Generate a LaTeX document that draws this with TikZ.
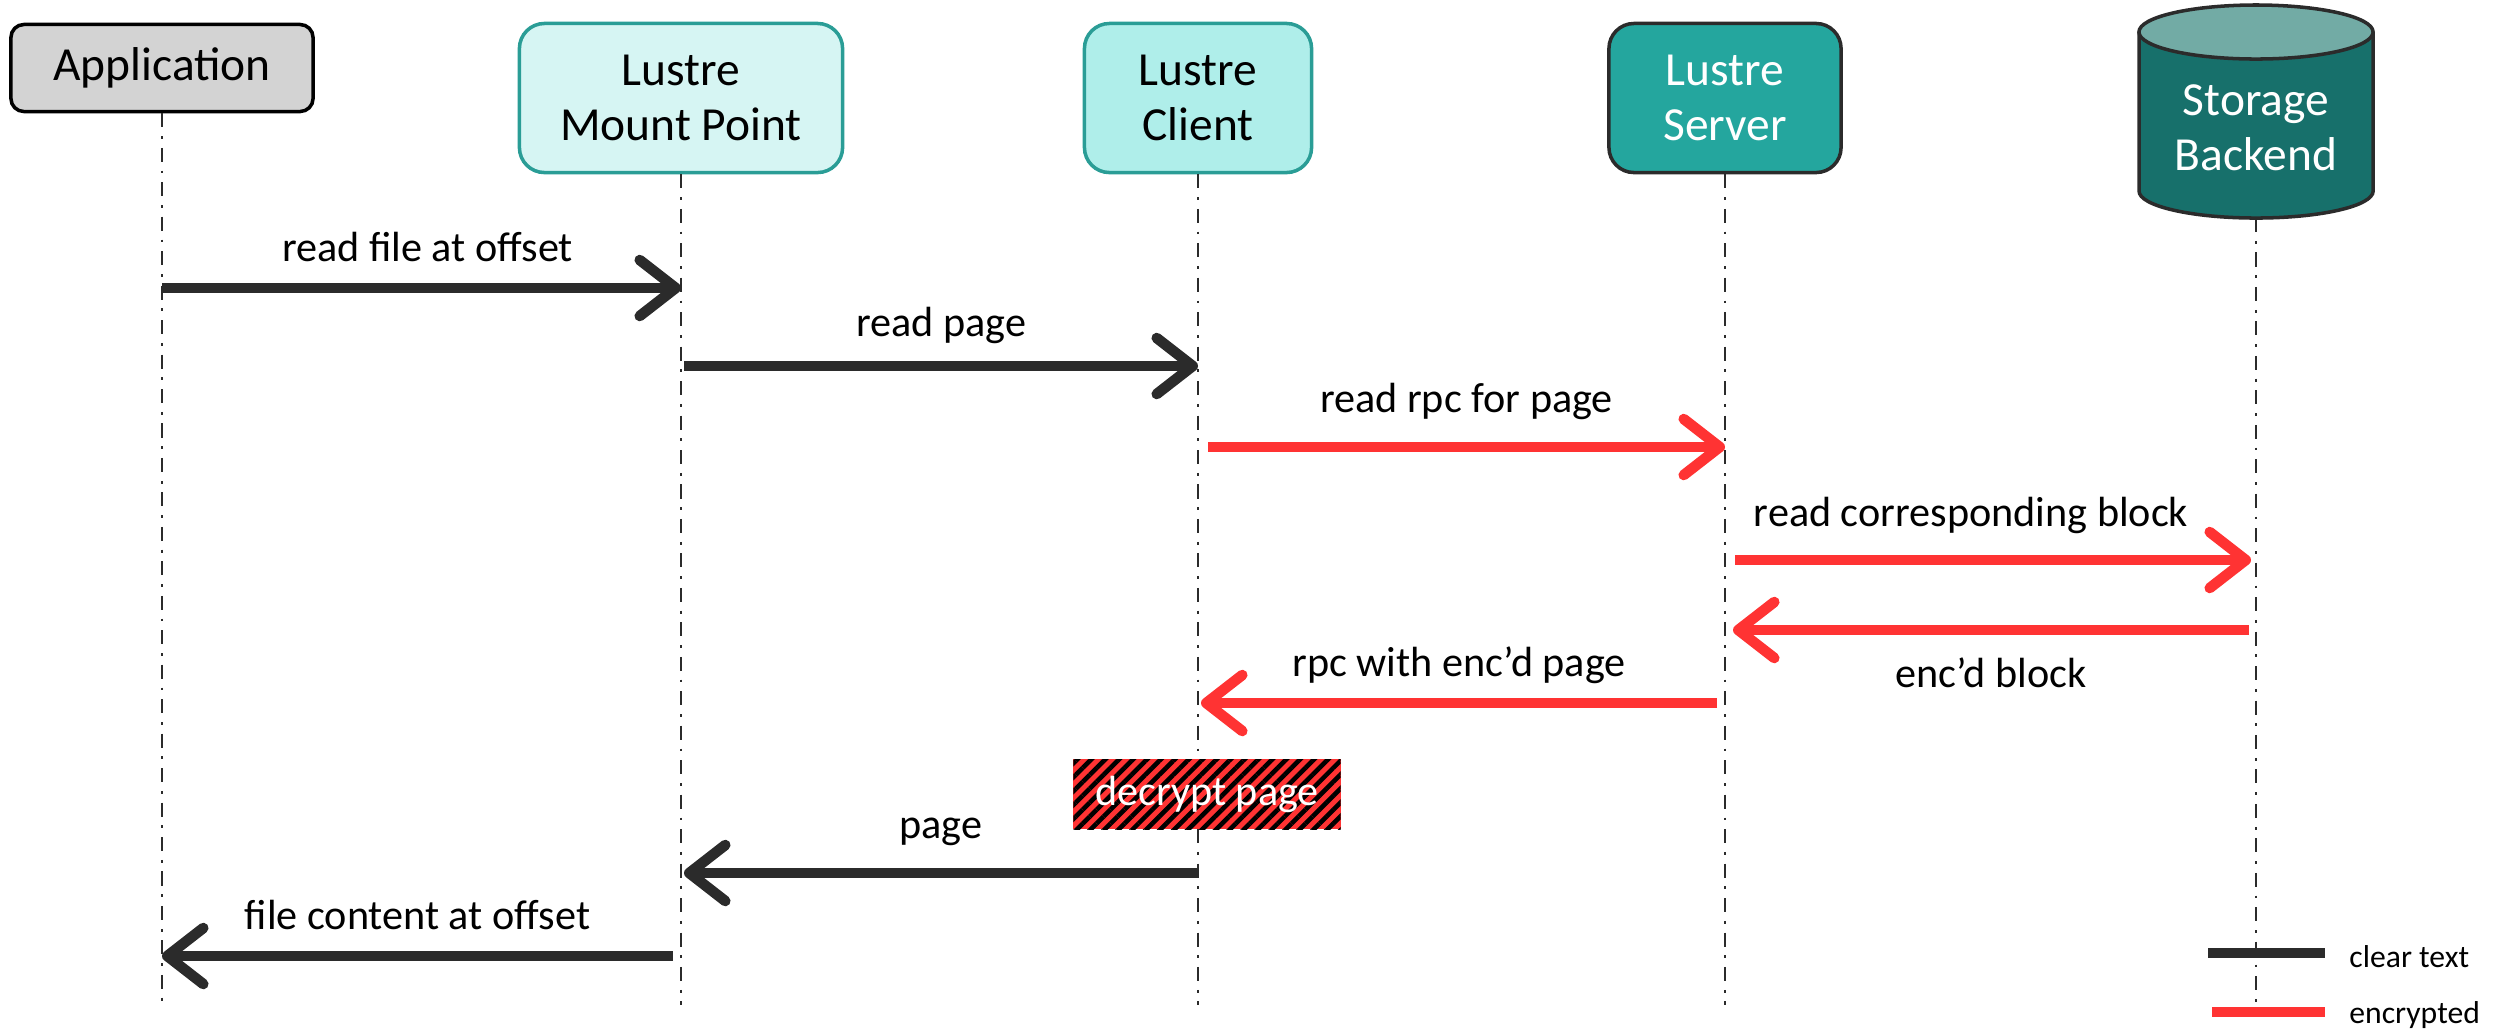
\documentclass[tikz,border=0pt]{standalone}
\usepackage{fontspec}
\setmainfont{Carlito}
\usetikzlibrary{arrows.meta,patterns.meta,positioning}

\definecolor{inkblack}{HTML}{2B2B2B}
\definecolor{encred}{HTML}{FF3333}
\definecolor{appgray}{HTML}{D3D3D3}
\definecolor{mntfill}{HTML}{D6F5F3}
\definecolor{clifill}{HTML}{AFEEEA}
\definecolor{tealline}{HTML}{2A9D96}
\definecolor{srvfill}{HTML}{24A69E}
\definecolor{storbody}{HTML}{17706B}
\definecolor{stortop}{HTML}{72ABA5}

\tikzset{
  actor/.style={draw, rounded corners=0.25cm, align=center, line width=1pt,
    font=\fontsize{13.5}{15.5}\selectfont, inner sep=0pt},
  lifeline/.style={inkblack, line width=0.7pt, dash pattern=on 4pt off 2.5pt on 0.8pt off 2.5pt},
  clearmsg/.style={inkblack, line width=3pt,
    -{Straight Barb[length=0.36cm, width=0.56cm, round]}},
  encmsg/.style={clearmsg, encred},
  msglabel/.style={text=black, font=\fontsize{12}{14}\selectfont, midway, yshift=0.41cm},
  legendline/.style={line width=3pt},
  legendtext/.style={font=\fontsize{9}{11}\selectfont, anchor=west}
}

\begin{document}
\begin{tikzpicture}[x=0.01cm, y=-0.01cm]
  \useasboundingbox (0,0) rectangle (2494,1029);

  % participants
  \node [actor, fill=appgray, rounded corners=0.13cm, minimum width=3.02cm, minimum height=0.87cm] at (162,68) (app) {Application};
  \node [actor, draw=tealline, fill=mntfill, minimum width=3.23cm, minimum height=1.49cm] at (681,98) (mnt) {Lustre\\Mount Point};
  \node [actor, draw=tealline, fill=clifill, minimum width=2.27cm, minimum height=1.49cm] at (1198,98) (cli) {Lustre\\Client};
  \node [actor, draw=inkblack, fill=srvfill, text=white, minimum width=2.32cm, minimum height=1.49cm] at (1725,98) (srv) {Lustre\\Server};

  % storage cylinder
  \draw [inkblack, line width=1pt, fill=storbody] (2139,32) -- (2139,191)
        arc [start angle=180, end angle=360, x radius=1.17cm, y radius=0.27cm] -- (2373,32);
  \draw [inkblack, line width=1pt, fill=stortop] (2256,32) ellipse [x radius=1.17cm, y radius=0.27cm];
  \node [align=center, text=white, font=\fontsize{13.5}{15.5}\selectfont, inner sep=0pt] at (2256,128) (stor) {Storage\\Backend};
  \coordinate (storBase) at (2256,218);

  % lifelines
  \coordinate (appEnd) at (app.south |- 0,1005);
  \coordinate (mntEnd) at (mnt.south |- 0,1005);
  \coordinate (cliEnd) at (cli.south |- 0,1005);
  \coordinate (srvEnd) at (srv.south |- 0,1005);
  \coordinate (storEnd) at (storBase |- 0,1005);
  \draw [lifeline] (app.south) -- (appEnd);
  \draw [lifeline] (mnt.south) -- (mntEnd);
  \draw [lifeline] (cli.south) -- (cliEnd);
  \draw [lifeline] (srv.south) -- (srvEnd);
  \draw [lifeline] (storBase) -- (storEnd);

  % message end points
  \coordinate (app1) at (app.south |- 0,288);
  \coordinate (mnt1) at (mnt.south |- 0,288);
  \coordinate (mnt2) at ([xshift=0.03cm]mnt.south |- 0,366);
  \coordinate (cli2) at (cli.south |- 0,366);
  \coordinate (cli3) at ([xshift=0.1cm]cli.south |- 0,447);
  \coordinate (srv3) at (srv.south |- 0,447);
  \coordinate (srv4) at ([xshift=0.1cm]srv.south |- 0,560);
  \coordinate (stor4) at ([xshift=-0.05cm]storBase |- 0,560);
  \coordinate (stor5) at ([xshift=-0.07cm]storBase |- 0,630);
  \coordinate (srv5) at ([xshift=0.08cm]srv.south |- 0,630);
  \coordinate (srv6) at ([xshift=-0.08cm]srv.south |- 0,703);
  \coordinate (cli6) at ([xshift=0.03cm]cli.south |- 0,703);
  \coordinate (cli8) at (cli.south |- 0,873);
  \coordinate (mnt8) at ([xshift=0.03cm]mnt.south |- 0,873);
  \coordinate (mnt9) at ([xshift=-0.08cm]mnt.south |- 0,956);
  \coordinate (app9) at (app.south |- 0,956);

  % messages
  \draw [clearmsg] (app1) -- (mnt1) node [msglabel, xshift=0.06cm] {read file at offset};
  \draw [clearmsg] (mnt2) -- (cli2) node [msglabel] {read page};
  \draw [encmsg] (cli3) -- (srv3) node [msglabel, yshift=0.05cm] {read rpc for page};
  \draw [encmsg] (srv4) -- (stor4) node [msglabel, xshift=-0.22cm, yshift=0.04cm] {read corresponding block};
  \draw [encmsg] (stor5) -- (srv5) node [msglabel, yshift=-0.84cm] {enc’d block};
  \draw [encmsg] (srv6) -- (cli6) node [msglabel, yshift=-0.03cm] {rpc with enc’d page};

  \node [preaction={fill=encred}, pattern={Lines[angle=45, distance=2.8pt, line width=1.3pt]},
         pattern color=black, minimum width=2.67cm, minimum height=0.7cm, inner sep=0pt,
         text=white, font=\fontsize{12}{14}\selectfont] at (1207,794) (dec) {decrypt page};

  \draw [clearmsg] (cli8) -- (mnt8) node [msglabel] {page};
  \draw [clearmsg] (mnt9) -- (app9) node [msglabel] {file content at offset};

  % legend
  \node [legendtext] at (2337,957) (clearTxt) {clear text};
  \node [legendtext] at (2337,1015) (encTxt) {encrypted};
  \coordinate (clearA) at (2208,953);
  \coordinate (clearB) at (2325,953);
  \coordinate (encA) at (2212,1012);
  \coordinate (encB) at (2325,1012);
  \draw [legendline, inkblack] (clearA) -- (clearB);
  \draw [legendline, encred] (encA) -- (encB);
\end{tikzpicture}
\end{document}
